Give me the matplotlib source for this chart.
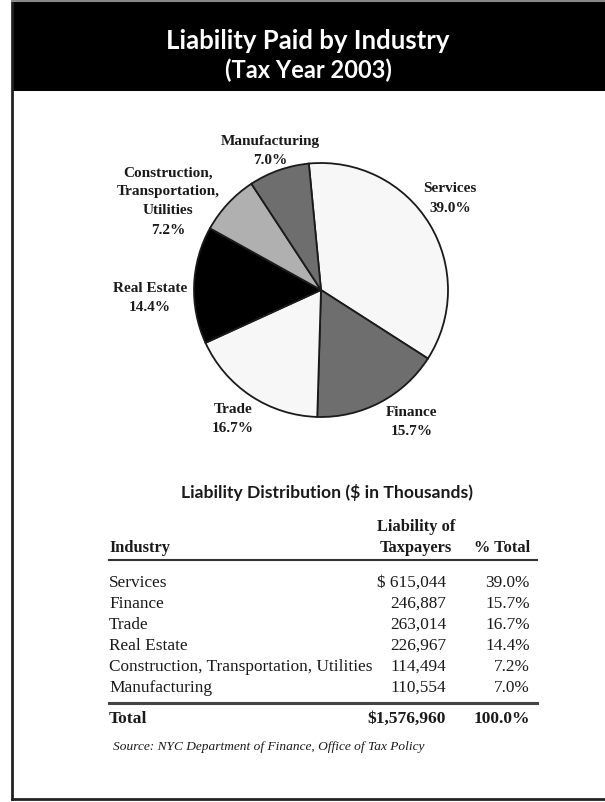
import matplotlib
matplotlib.use("Agg")
import matplotlib.pyplot as plt
from matplotlib.patches import Rectangle

# data
industries = ["Services", "Finance", "Trade", "Real Estate",
              "Construction, Transportation, Utilities", "Manufacturing"]
liability = [615044, 246887, 263014, 226967, 114494, 110554]
pct_total = [39.0, 15.7, 16.7, 14.4, 7.2, 7.0]
total_liability = 1576960
total_pct = 100.0

# wedge sizes as drawn in the pie (they differ slightly from the labels)
pie_shares = [35.6, 16.4, 17.7, 14.9, 7.7, 7.7]
pie_names = ["Services", "Finance", "Trade", "Real Estate",
             "Construction,\nTransportation,\nUtilities", "Manufacturing"]
pie_colors = ["#f7f7f7", "#6e6e6e", "#f7f7f7", "#000000", "#b0b0b0", "#6e6e6e"]

W, H = 605, 803
fig = plt.figure(figsize=(W / 100, H / 100), dpi=100)
ax = fig.add_axes([0, 0, 1, 1])

sans = ["Lato", "DejaVu Sans"]
serif = ["Liberation Serif", "DejaVu Serif"]
ink = "#1a1a1a"

# frame + black header
ax.add_patch(Rectangle((12, 2), W - 12, 90, facecolor="black", edgecolor="none", zorder=1))
ax.plot([12, 12], [2, 800], color="#222222", lw=2, zorder=2)
ax.plot([12, W], [800, 800], color="#222222", lw=2, zorder=2)
ax.plot([12, W], [2, 2], color="#888888", lw=1.5, zorder=2)
ax.text(308, 41, "Liability Paid by Industry", color="white", fontsize=18.5,
        fontweight="bold", family=sans, ha="center", va="center")
ax.text(308, 70, "(Tax Year 2003)", color="white", fontsize=17,
        fontweight="bold", family=sans, ha="center", va="center")

# pie (y axis is inverted, so counterclock in data = clockwise on screen)
ax.pie(pie_shares, colors=pie_colors, center=(321, 291), radius=127,
       startangle=-95.5, counterclock=True, frame=True,
       wedgeprops=dict(edgecolor="#1a1a1a", linewidth=1.3))

label_xy = [(450, 189), (412, 413), (233, 410), (150, 289), (168, 173), (270, 141)]
for name, pct, (lx, ly) in zip(pie_names, pct_total, label_xy):
    lines = name.split("\n") + ["{:.1f}%".format(pct)]
    for i, line in enumerate(lines):
        ax.text(lx, ly + i * 19, line, fontsize=11, fontweight="bold", family=serif,
                ha="center", va="center", color=ink)

# table
ax.text(327, 493, "Liability Distribution ($ in Thousands)", fontsize=12.6,
        fontweight="bold", family=sans, ha="center", va="center", color=ink)
hdr = dict(fontsize=11.8, fontweight="bold", family=serif, va="center", color=ink)
ax.text(416, 527, "Liability of", ha="center", **hdr)
ax.text(416, 548, "Taxpayers", ha="center", **hdr)
ax.text(109, 548, "Industry", ha="left", **hdr)
ax.text(530, 548, "% Total", ha="right", **hdr)
ax.plot([109, 537], [561, 561], color="#333333", lw=1.5)

row = dict(fontsize=12.4, family=serif, va="center", color=ink)
for i, (name, val, pct) in enumerate(zip(industries, liability, pct_total)):
    y = 583 + i * 21
    val_txt = "{:,}".format(val)
    if i == 0:
        val_txt = "$ " + val_txt
    ax.text(109, y, name, ha="left", **row)
    ax.text(446, y, val_txt, ha="right", **row)
    ax.text(530, y, "{:.1f}%".format(pct), ha="right", **row)

ax.plot([109, 537], [704, 704], color="#444444", lw=2.2)
tot = dict(fontsize=12.6, fontweight="bold", family=serif, va="center", color=ink)
ax.text(109, 719, "Total", ha="left", **tot)
ax.text(446, 719, "${:,}".format(total_liability), ha="right", **tot)
ax.text(530, 719, "{:.1f}%".format(total_pct), ha="right", **tot)

ax.text(113, 747, "Source: NYC Department of Finance, Office of Tax Policy", fontsize=9.6,
        style="italic", family=serif, ha="left", va="center", color=ink)

ax.set_xlim(0, W)
ax.set_ylim(H, 0)
ax.set_aspect("auto")
ax.axis("off")

fig.savefig("out.png", dpi=100, facecolor="white")
